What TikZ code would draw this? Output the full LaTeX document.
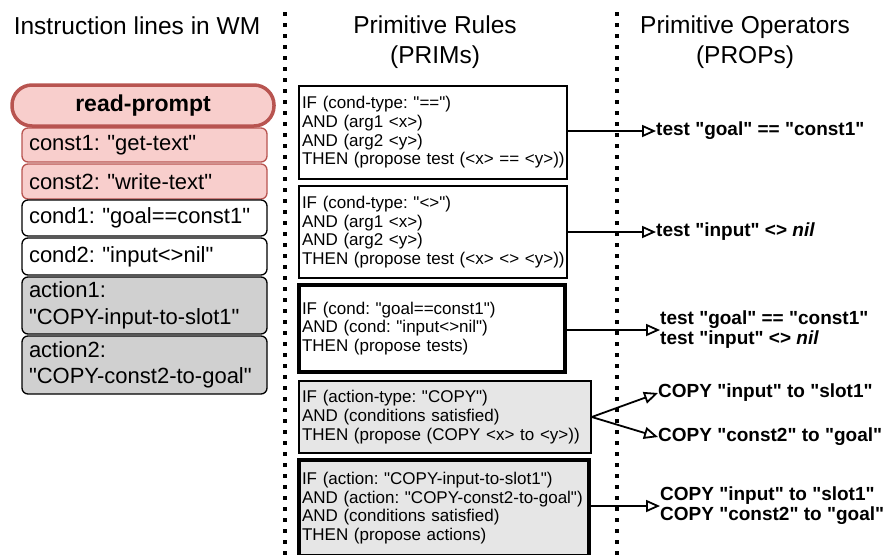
\documentclass[tikz,border=0pt]{standalone}
\usepackage{fontspec}
\setmainfont{Liberation Sans}[Ligatures=TeXOff]
\usetikzlibrary{arrows.meta}
\frenchspacing

\definecolor{wmfill}{HTML}{F8CECC}
\definecolor{wmstroke}{HTML}{B85450}
\definecolor{actfill}{HTML}{D0D0D0}
\definecolor{rulefill}{HTML}{E6E6E6}

\begin{document}
\begin{tikzpicture}[x=1pt,y=-1pt,
  heading/.style={align=center, inner sep=0pt, font=\fontsize{24.5}{30}\selectfont},
  divider/.style={line width=4pt, dash pattern=on 4pt off 7pt},
  wmbase/.style={draw, align=left, inner xsep=7pt, inner ysep=0pt,
    text width=231pt, minimum width=245pt, rounded corners=6pt,
    line width=1.3pt, font=\fontsize{22}{26.5}\selectfont},
  wmconst/.style={wmbase, fill=wmfill, draw=wmstroke},
  wmcond/.style={wmbase, fill=white},
  wmaction/.style={wmbase, fill=actfill},
  prompt/.style={draw=wmstroke, fill=wmfill, line width=3.5pt,
    rounded corners=20pt, minimum width=262pt, minimum height=41pt,
    font=\bfseries\fontsize{23}{27}\selectfont},
  prim/.style={draw, fill=white, align=left, inner xsep=3pt, inner ysep=0pt,
    line width=1.5pt, font=\fontsize{17}{18.7}\selectfont},
  primkey/.style={prim, line width=4pt},
  prop/.style={align=left, anchor=west, inner sep=0pt,
    font=\bfseries\fontsize{19}{20}\selectfont},
  arr/.style={line width=1.8pt,
    -{Triangle[open, length=14pt, width=12pt, line width=1.8pt]}}
]
\useasboundingbox (0,0) rectangle (888,554);

% column headings
\node[heading] (hwm)   at (137,26) {Instruction lines in WM};
\node[heading] (hprim) at (435,42) {Primitive Rules\\(PRIMs)};
\node[heading] (hprop) at (745,42) {Primitive Operators\\(PROPs)};

% column dividers
\coordinate (d1top) at (285,12);
\coordinate (d1bot) at (285,556);
\coordinate (d2top) at (617,12);
\coordinate (d2bot) at (617,556);
\draw[divider] (d1top) -- (d1bot);
\draw[divider] (d2top) -- (d2bot);

% instruction lines held in working memory
\node[prompt] (rp) at (143,105.5) {read-prompt};
\node[wmconst,  minimum height=34pt] (c1) at (144.5,145)   {const1: "get-text"};
\node[wmconst,  minimum height=35pt] (c2) at (144.5,181.5) {const2: "write-text"};
\node[wmcond,   minimum height=36pt] (k1) at (144.5,218)   {cond1: "goal==const1"};
\node[wmcond,   minimum height=37pt] (k2) at (144.5,256.5) {cond2: "input<>nil"};
\node[wmaction, minimum height=57pt] (a1) at (144.5,305.5) {action1:\\"COPY-input-to-slot1"};
\node[wmaction, minimum height=58pt] (a2) at (144.5,365)   {action2:\\"COPY-const2-to-goal"};

% primitive rules
\node[prim, text width=262pt, minimum height=93pt] (r1) at (433,132.5)
  {IF (cond-type: "==")\\AND (arg1 <x>)\\AND (arg2 <y>)\\\mbox{THEN (propose test (<x> == <y>))}};
\node[prim, text width=262pt, minimum height=92pt] (r2) at (433,232)
  {IF (cond-type: "<>")\\AND (arg1 <x>)\\AND (arg2 <y>)\\\mbox{THEN (propose test (<x> <> <y>))}};
\node[primkey, text width=260pt, minimum height=87pt] (r3) at (432,328.5)
  {IF (cond: "goal==const1")\\AND (cond: "input<>nil")\\THEN (propose tests)};
\node[prim, fill=rulefill, text width=286pt, minimum height=72pt] (r4) at (445,417)
  {IF (action-type: "COPY")\\AND (conditions satisfied)\\\mbox{THEN (propose (COPY <x> to <y>))}};
\node[primkey, fill=rulefill, text width=284pt, minimum height=96pt] (r5) at (444,508)
  {IF (action: "COPY-input-to-slot1")\\\mbox{AND (action: "COPY-const2-to-goal")}\\AND (conditions satisfied)\\THEN (propose actions)};

% primitive operators
\node[prop] (o1)  at (656,131)   {test "goal" == "const1"};
\node[prop] (o2)  at (656,232)   {test "input" <> \textit{nil}};
\node[prop] (o3)  at (660,330)   {test "goal" == "const1"\\test "input" <> \textit{nil}};
\node[prop] (o4a) at (658,393)   {COPY "input" to "slot1"};
\node[prop] (o4b) at (658,437)   {COPY "const2" to "goal"};
\node[prop] (o5)  at (660,506)   {COPY "input" to "slot1"\\COPY "const2" to "goal"};

% rules propose operators
\draw[arr] (r1.east |- o1.west) -- (o1.west);
\draw[arr] (r2.east) -- (o2.west);
\draw[arr] (r3.east |- o3.west) -- (o3.west);
\draw[arr] (r4.east) -- (o4a.west);
\draw[arr] (r4.east) -- (o4b.west);
\draw[arr] (r5.east |- o5.west) -- (o5.west);
\end{tikzpicture}
\end{document}
